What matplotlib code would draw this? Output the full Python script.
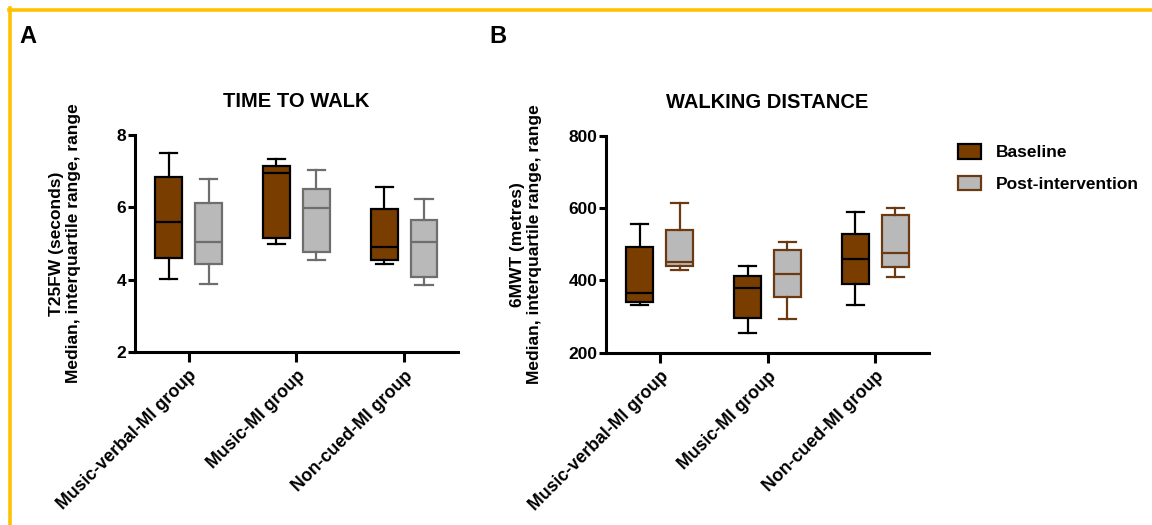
import numpy as np
import matplotlib.pyplot as plt
from matplotlib.patches import Patch
from matplotlib.lines import Line2D

# ============================================
# Data (min, Q1, median, Q3, max)
# ============================================
groups = ["Music-verbal-MI group", "Music-MI group", "Non-cued-MI group"]

t25_base_min = [4.02, 4.99, 4.44]
t25_base_q1 = [4.60, 5.14, 4.55]
t25_base_med = [5.60, 6.96, 4.90]
t25_base_q3 = [6.84, 7.15, 5.96]
t25_base_max = [7.50, 7.34, 6.56]

t25_post_min = [3.89, 4.55, 3.86]
t25_post_q1 = [4.44, 4.76, 4.06]
t25_post_med = [5.05, 5.98, 5.03]
t25_post_q3 = [6.12, 6.50, 5.66]
t25_post_max = [6.78, 7.04, 6.24]

mwt_base_min = [333, 255, 333]
mwt_base_q1 = [341, 297, 391]
mwt_base_med = [366, 380, 460]
mwt_base_q3 = [493, 413, 529]
mwt_base_max = [556, 440, 590]

mwt_post_min = [429, 294, 410]
mwt_post_q1 = [440, 355, 438]
mwt_post_med = [451, 418, 476]
mwt_post_q3 = [540, 485, 581]
mwt_post_max = [615, 507, 600]

BROWN = "#7a3d00"
GREY = "#b9b9b9"
DARKGREY = "#6e6e6e"
EDGE_BROWN = "#6b3a12"

plt.rcParams['font.family'] = ['Liberation Sans', 'DejaVu Sans']
plt.rcParams['font.weight'] = 'bold'


def make_stats(mn, q1, med, q3, mx):
    return [dict(whislo=a, q1=b, med=c, q3=d, whishi=e, fliers=[])
            for a, b, c, d, e in zip(mn, q1, med, q3, mx)]


def draw_boxes(ax, stats, offset, face, edge, med_color):
    pos = np.arange(len(stats)) + offset
    ax.bxp(stats, positions=pos, widths=0.25, patch_artist=True,
           showfliers=False,
           boxprops=dict(facecolor=face, edgecolor=edge, linewidth=1.6),
           medianprops=dict(color=med_color, linewidth=1.6),
           whiskerprops=dict(color=edge, linewidth=1.6),
           capprops=dict(color=edge, linewidth=1.6),
           capwidths=0.16)


def style_axis(ax, ylim, yticks, ylabel, title, labelpad):
    ax.set_xlim(-0.5, 2.5)
    ax.set_ylim(*ylim)
    ax.set_yticks(yticks)
    ax.set_xticks(np.arange(len(groups)))
    ax.set_xticklabels(groups, rotation=45, ha='right', rotation_mode='anchor',
                       fontsize=12.8, fontweight='bold')
    for lab in ax.get_yticklabels():
        lab.set_fontsize(12.5)
        lab.set_fontweight('bold')
    ax.spines['top'].set_visible(False)
    ax.spines['right'].set_visible(False)
    ax.spines['left'].set_linewidth(2.2)
    ax.spines['bottom'].set_linewidth(2.2)
    ax.tick_params(axis='y', width=2.2, length=5, pad=1)
    ax.tick_params(axis='x', width=2.2, length=7, pad=4)
    ax.set_ylabel(ylabel, fontsize=12.5, fontweight='bold', labelpad=labelpad,
                  linespacing=1.15)
    ax.set_title(title, fontsize=14.5, fontweight='bold', pad=20)


fig = plt.figure(figsize=(11.52, 5.25), dpi=100)
axA = fig.add_axes([0.117, 0.3295, 0.2805, 0.4135])
axB = fig.add_axes([0.526, 0.328, 0.2805, 0.4135])

# Panel A: time to walk
draw_boxes(axA, make_stats(t25_base_min, t25_base_q1, t25_base_med, t25_base_q3, t25_base_max),
           -0.185, BROWN, "black", "black")
draw_boxes(axA, make_stats(t25_post_min, t25_post_q1, t25_post_med, t25_post_q3, t25_post_max),
           0.185, GREY, DARKGREY, DARKGREY)
style_axis(axA, (2, 8), [2, 4, 6, 8],
           "T25FW (seconds)\nMedian, interquartile range, range", "TIME TO WALK", 26)

# Panel B: walking distance
draw_boxes(axB, make_stats(mwt_base_min, mwt_base_q1, mwt_base_med, mwt_base_q3, mwt_base_max),
           -0.185, BROWN, "black", "black")
draw_boxes(axB, make_stats(mwt_post_min, mwt_post_q1, mwt_post_med, mwt_post_q3, mwt_post_max),
           0.185, GREY, EDGE_BROWN, EDGE_BROWN)
style_axis(axB, (200, 800), [200, 400, 600, 800],
           "6MWT (metres)\nMedian, interquartile range, range", "WALKING DISTANCE", 19)

# legend
handles = [Patch(facecolor=BROWN, edgecolor="black", linewidth=1.6, label="Baseline"),
           Patch(facecolor=GREY, edgecolor=EDGE_BROWN, linewidth=1.6, label="Post-intervention")]
fig.legend(handles=handles, loc='upper left', bbox_to_anchor=(0.818, 0.755),
           frameon=False, handlelength=1.3, handleheight=0.9, handletextpad=0.9,
           labelspacing=0.9, prop=dict(weight='bold', size=12.5))

# panel letters
fig.text(0.017, 0.93, "A", fontsize=17, fontweight='bold', va='center')
fig.text(0.425, 0.93, "B", fontsize=17, fontweight='bold', va='center')

# yellow frame (top and left edges)
fig.add_artist(Line2D([0.0075, 1.0], [1 - 9.5 / 525] * 2, color="#ffc000",
                      linewidth=2.6, transform=fig.transFigure))
fig.add_artist(Line2D([9.5 / 1152] * 2, [0.0, 1 - 8 / 525], color="#ffc000",
                      linewidth=2.6, transform=fig.transFigure))

fig.savefig("out.png", dpi=100)
